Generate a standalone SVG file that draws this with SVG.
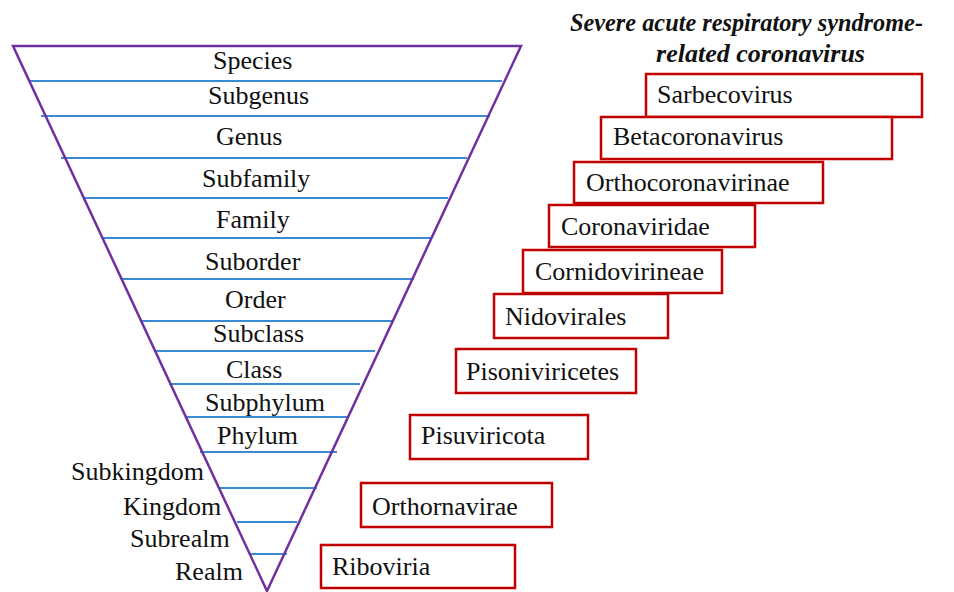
<svg xmlns="http://www.w3.org/2000/svg" width="954" height="592" viewBox="0 0 954 592">
<style>
  .lbl { font-family: "Liberation Serif", "Times New Roman", serif; font-size: 26px; fill: #111; }
  .ttl { font-family: "Liberation Serif", "Times New Roman", serif; font-size: 25px; font-weight: bold; font-style: italic; fill: #111; }
  .box { fill: #fff; stroke: #c00000; stroke-width: 2.5; }
  .div { stroke: #3a8ad4; stroke-width: 2; fill: none; }
  .tri { stroke: #7030a0; stroke-width: 2.5; fill: none; stroke-linejoin: miter; }
</style>
<rect width="954" height="592" fill="#fff"/>

<g id="pyramid">
  <g id="dividers">
    <line class="div" x1="28" y1="81" x2="502" y2="81"/>
    <line class="div" x1="41" y1="116" x2="490" y2="116"/>
    <line class="div" x1="61" y1="158" x2="467" y2="158"/>
    <line class="div" x1="84" y1="198" x2="448" y2="198"/>
    <line class="div" x1="103" y1="238" x2="432" y2="238"/>
    <line class="div" x1="121" y1="279" x2="414" y2="279"/>
    <line class="div" x1="141" y1="321" x2="393" y2="321"/>
    <line class="div" x1="154" y1="351" x2="375" y2="351"/>
    <line class="div" x1="169" y1="384" x2="360" y2="384"/>
    <line class="div" x1="186" y1="417" x2="349" y2="417"/>
    <line class="div" x1="200" y1="452" x2="337" y2="452"/>
    <line class="div" x1="220" y1="488" x2="317" y2="488"/>
    <line class="div" x1="237" y1="522" x2="297" y2="522"/>
    <line class="div" x1="250" y1="554" x2="287" y2="554"/>
  </g>
  <polygon class="tri" points="13,46 521,46 267,591"/>
</g>

<g id="ranks">
  <g id="rank-species"><text class="lbl" x="213" y="69">Species</text></g>
  <g id="rank-subgenus"><text class="lbl" x="208" y="104">Subgenus</text></g>
  <g id="rank-genus"><text class="lbl" x="216" y="145">Genus</text></g>
  <g id="rank-subfamily"><text class="lbl" x="202" y="187">Subfamily</text></g>
  <g id="rank-family"><text class="lbl" x="216" y="228">Family</text></g>
  <g id="rank-suborder"><text class="lbl" x="205" y="270">Suborder</text></g>
  <g id="rank-order"><text class="lbl" x="225" y="308">Order</text></g>
  <g id="rank-subclass"><text class="lbl" x="213" y="342">Subclass</text></g>
  <g id="rank-class"><text class="lbl" x="226" y="378">Class</text></g>
  <g id="rank-subphylum"><text class="lbl" x="205" y="411">Subphylum</text></g>
  <g id="rank-phylum"><text class="lbl" x="217" y="444">Phylum</text></g>
  <g id="rank-subkingdom"><text class="lbl" x="71" y="480">Subkingdom</text></g>
  <g id="rank-kingdom"><text class="lbl" x="123" y="515">Kingdom</text></g>
  <g id="rank-subrealm"><text class="lbl" x="130" y="547">Subrealm</text></g>
  <g id="rank-realm"><text class="lbl" x="175" y="580">Realm</text></g>
</g>

<g id="title">
  <text class="ttl" x="570" y="31" textLength="353" lengthAdjust="spacingAndGlyphs">Severe acute respiratory syndrome-</text>
  <text class="ttl" x="656" y="62" textLength="209" lengthAdjust="spacingAndGlyphs">related coronavirus</text>
</g>

<g id="taxa">
  <g id="taxon-sarbecovirus"><rect class="box" x="646" y="74" width="276" height="43"/><text class="lbl" x="657" y="103">Sarbecovirus</text></g>
  <g id="taxon-betacoronavirus"><rect class="box" x="601" y="117" width="291" height="42"/><text class="lbl" x="613" y="145">Betacoronavirus</text></g>
  <g id="taxon-orthocoronavirinae"><rect class="box" x="574" y="162" width="249" height="41"/><text class="lbl" x="586" y="191">Orthocoronavirinae</text></g>
  <g id="taxon-coronaviridae"><rect class="box" x="549" y="205" width="206" height="42"/><text class="lbl" x="561" y="235">Coronaviridae</text></g>
  <g id="taxon-cornidovirineae"><rect class="box" x="523" y="250" width="199" height="43"/><text class="lbl" x="535" y="280">Cornidovirineae</text></g>
  <g id="taxon-nidovirales"><rect class="box" x="494" y="294" width="174" height="44"/><text class="lbl" x="505" y="325">Nidovirales</text></g>
  <g id="taxon-pisoniviricetes"><rect class="box" x="456" y="349" width="180" height="44"/><text class="lbl" x="466" y="380">Pisoniviricetes</text></g>
  <g id="taxon-pisuviricota"><rect class="box" x="410" y="415" width="178" height="44"/><text class="lbl" x="421" y="444">Pisuviricota</text></g>
  <g id="taxon-orthornavirae"><rect class="box" x="361" y="483" width="191" height="44"/><text class="lbl" x="372" y="515">Orthornavirae</text></g>
  <g id="taxon-riboviria"><rect class="box" x="321" y="545" width="194" height="43"/><text class="lbl" x="332" y="575">Riboviria</text></g>
</g>
</svg>
